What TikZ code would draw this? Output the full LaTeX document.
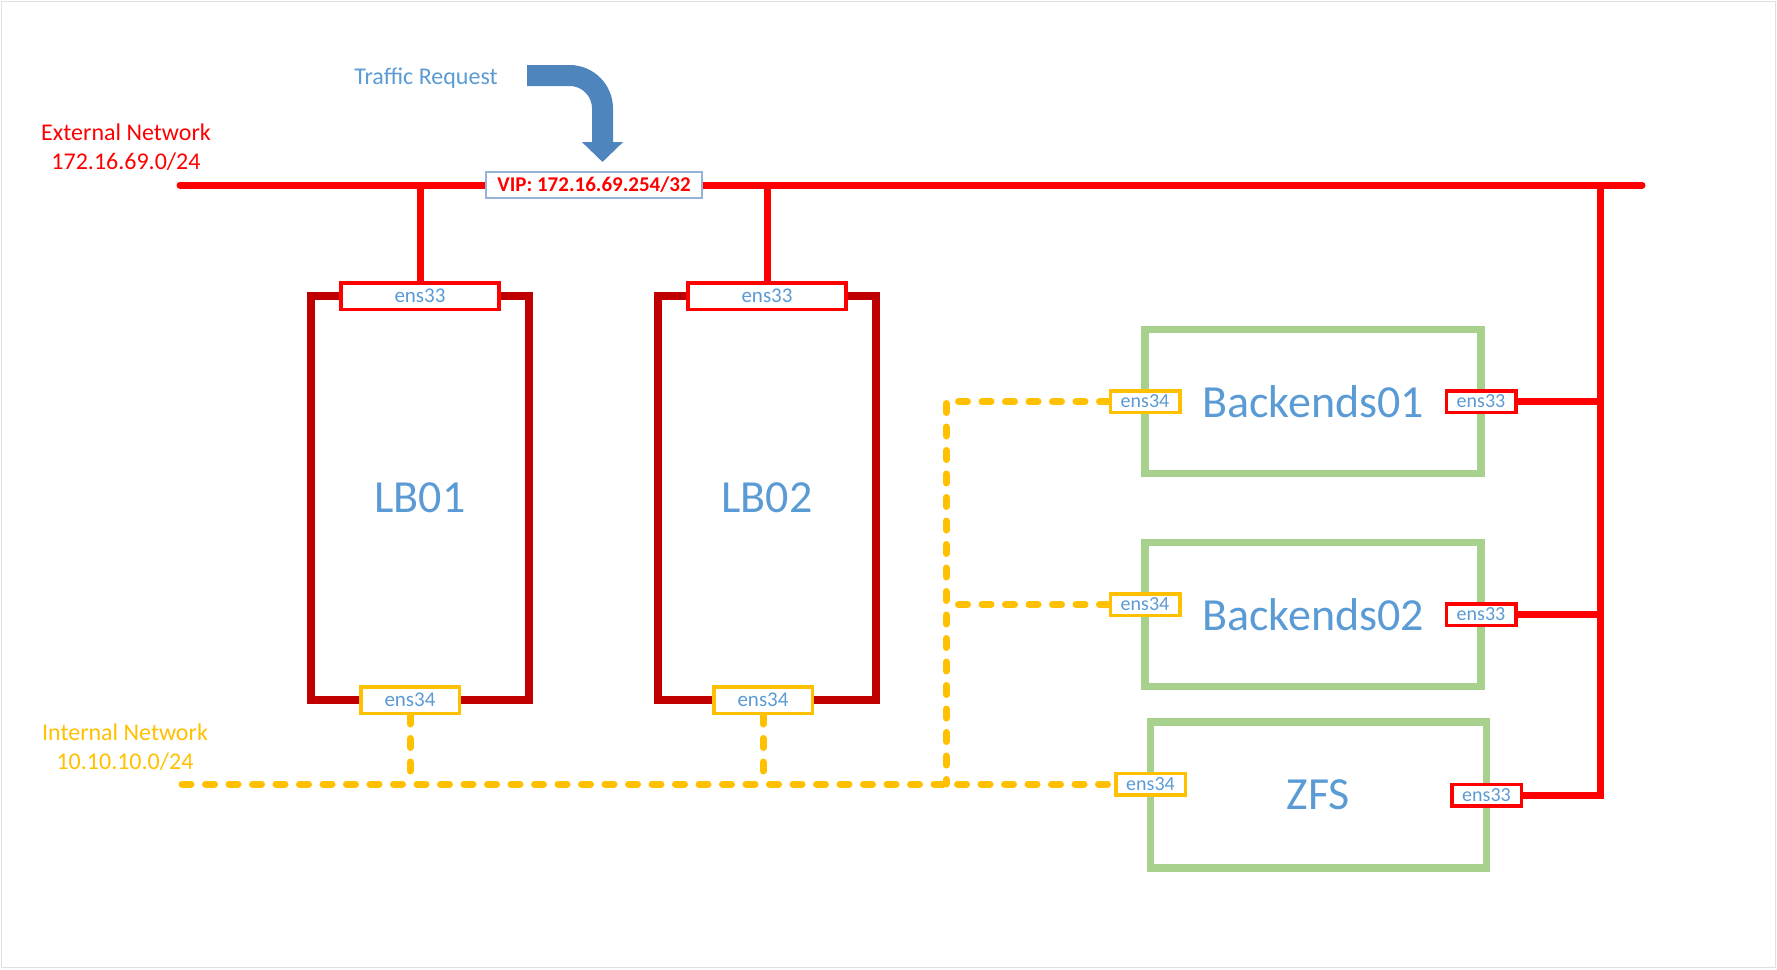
\documentclass[tikz,border=0pt]{standalone}
\usepackage{fontspec}
\setmainfont{Carlito}
\usetikzlibrary{arrows.meta}

\definecolor{extred}{HTML}{FF0000}
\definecolor{lbred}{HTML}{C00000}
\definecolor{intyellow}{HTML}{FFC000}
\definecolor{hostgreen}{HTML}{A9D18E}
\definecolor{txtblue}{HTML}{5B9BD5}
\definecolor{arrowblue}{HTML}{4F85BD}
\definecolor{vipframe}{HTML}{95B3D7}

\pgfdeclarelayer{bg}
\pgfsetlayers{bg,main}

\begin{document}
\begin{tikzpicture}[x=1pt, y=-1pt,
	extnet/.style={extred, line width=7pt},
	intnet/.style={intyellow, line width=7pt, line cap=round, line join=round, dash pattern=on 9pt off 14.5pt},
	lbbox/.style={draw=lbred, line width=7.5pt, outer sep=0pt, minimum width=218pt, minimum height=404pt, text=txtblue, font=\fontsize{46}{50}\selectfont},
	hostbox/.style={draw=hostgreen, line width=7.5pt, outer sep=0pt, minimum width=336pt, minimum height=144pt, text=txtblue, font=\fontsize{46}{50}\selectfont},
	nic33/.style={draw=extred, fill=white, line width=3.5pt, inner sep=0pt, text=txtblue},
	nic34/.style={draw=intyellow, fill=white, line width=3.5pt, inner sep=0pt, text=txtblue},
	lbnic/.style={minimum width=158pt, minimum height=26.5pt, font=\fontsize{21}{24}\selectfont},
	hostnic/.style={minimum width=69.5pt, minimum height=21.5pt, font=\fontsize{20}{22}\selectfont},
	netlabel/.style={align=center, font=\fontsize{24}{29}\selectfont},
	flowarrow/.style={arrowblue, line width=21pt, rounded corners=33pt, -{Triangle[width=40pt, length=20pt]}}]

	\useasboundingbox (0,0) rectangle (1777,969);
	\draw [black!12, line width=1pt] (1,1) rectangle (1775,967);

	\coordinate (extL) at (180,185);
	\coordinate (extR) at (1642,185);
	\coordinate (extV) at (1600,185);
	\coordinate (intL) at (182,784);
	\coordinate (trunk) at (946,0);
	\coordinate (flowin) at (527,75.5);
	\coordinate (flowout) at (602.5,162);

	% labels
	\node [netlabel, text=extred] (extname) at (126,147.5) {External Network\\172.16.69.0/24};
	\node [netlabel, text=intyellow] (intname) at (125,747) {Internal Network\\10.10.10.0/24};
	\node [text=txtblue, font=\fontsize{24}{29}\selectfont] (request) at (426,78) {Traffic Request};
	\draw [flowarrow] (flowin) -| (flowout);

	% load balancers
	\node [lbbox] (lb01) at (420,498) {LB01};
	\node [lbbox] (lb02) at (767,498) {LB02};
	\node [nic33, lbnic] (lb01e33) at (lb01.north) {ens33};
	\node [nic33, lbnic] (lb02e33) at (lb02.north) {ens33};
	\node [nic34, lbnic, minimum width=98.5pt] (lb01e34) at ([xshift=-10pt]lb01.south) {ens34};
	\node [nic34, lbnic, minimum width=98.5pt] (lb02e34) at ([xshift=-4pt]lb02.south) {ens34};

	% backends and storage
	\node [hostbox] (be01) at (1313,401.5) {Backends01};
	\node [hostbox] (be02) at (1313,614.5) {Backends02};
	\node [hostbox, minimum height=146pt] (zfs) at (1318.5,795) {ZFS};
	\node [nic34, hostnic] (be01e34) at (be01.west) {ens34};
	\node [nic33, hostnic] (be01e33) at (be01.east) {ens33};
	\node [nic34, hostnic] (be02e34) at ([yshift=10pt]be02.west) {ens34};
	\node [nic33, hostnic] (be02e33) at (be02.east) {ens33};
	\node [nic34, hostnic] (zfse34) at ([yshift=11pt]zfs.west) {ens34};
	\node [nic33, hostnic] (zfse33) at (zfs.east) {ens33};

	\node [draw=vipframe, line width=1.5pt, fill=white, inner sep=0pt, minimum width=216pt, minimum height=26pt,
		text=extred, font=\bfseries\fontsize{21}{24}\selectfont] (vip) at (594,185) {VIP: 172.16.69.254/32};

	\begin{pgfonlayer}{bg}
	% external network
	\draw [extnet, line cap=round] (extL) -- (extR);
	\draw [extnet] (lb01e33.north) -- (lb01e33.north |- extL);
	\draw [extnet] (lb02e33.north) -- (lb02e33.north |- extL);
	\draw [extnet] (be01e33.east) -- (be01e33 -| extV);
	\draw [extnet] (be02e33.east) -- (be02e33 -| extV);
	\draw [extnet] (zfse33.east) -- (zfse33 -| extV) -- (extV);

	% internal network
	\draw [intnet] (intL) -- (zfse34.west);
	\draw [intnet] (lb01e34.south) -- (lb01e34.south |- intL);
	\draw [intnet] (lb02e34.south) -- (lb02e34.south |- intL);
	\draw [intnet] (be01e34.west) -- (be01e34 -| trunk) -- (trunk |- intL);
	\draw [intnet] (be02e34.west) -- (be02e34 -| trunk);
	\end{pgfonlayer}

\end{tikzpicture}
\end{document}
